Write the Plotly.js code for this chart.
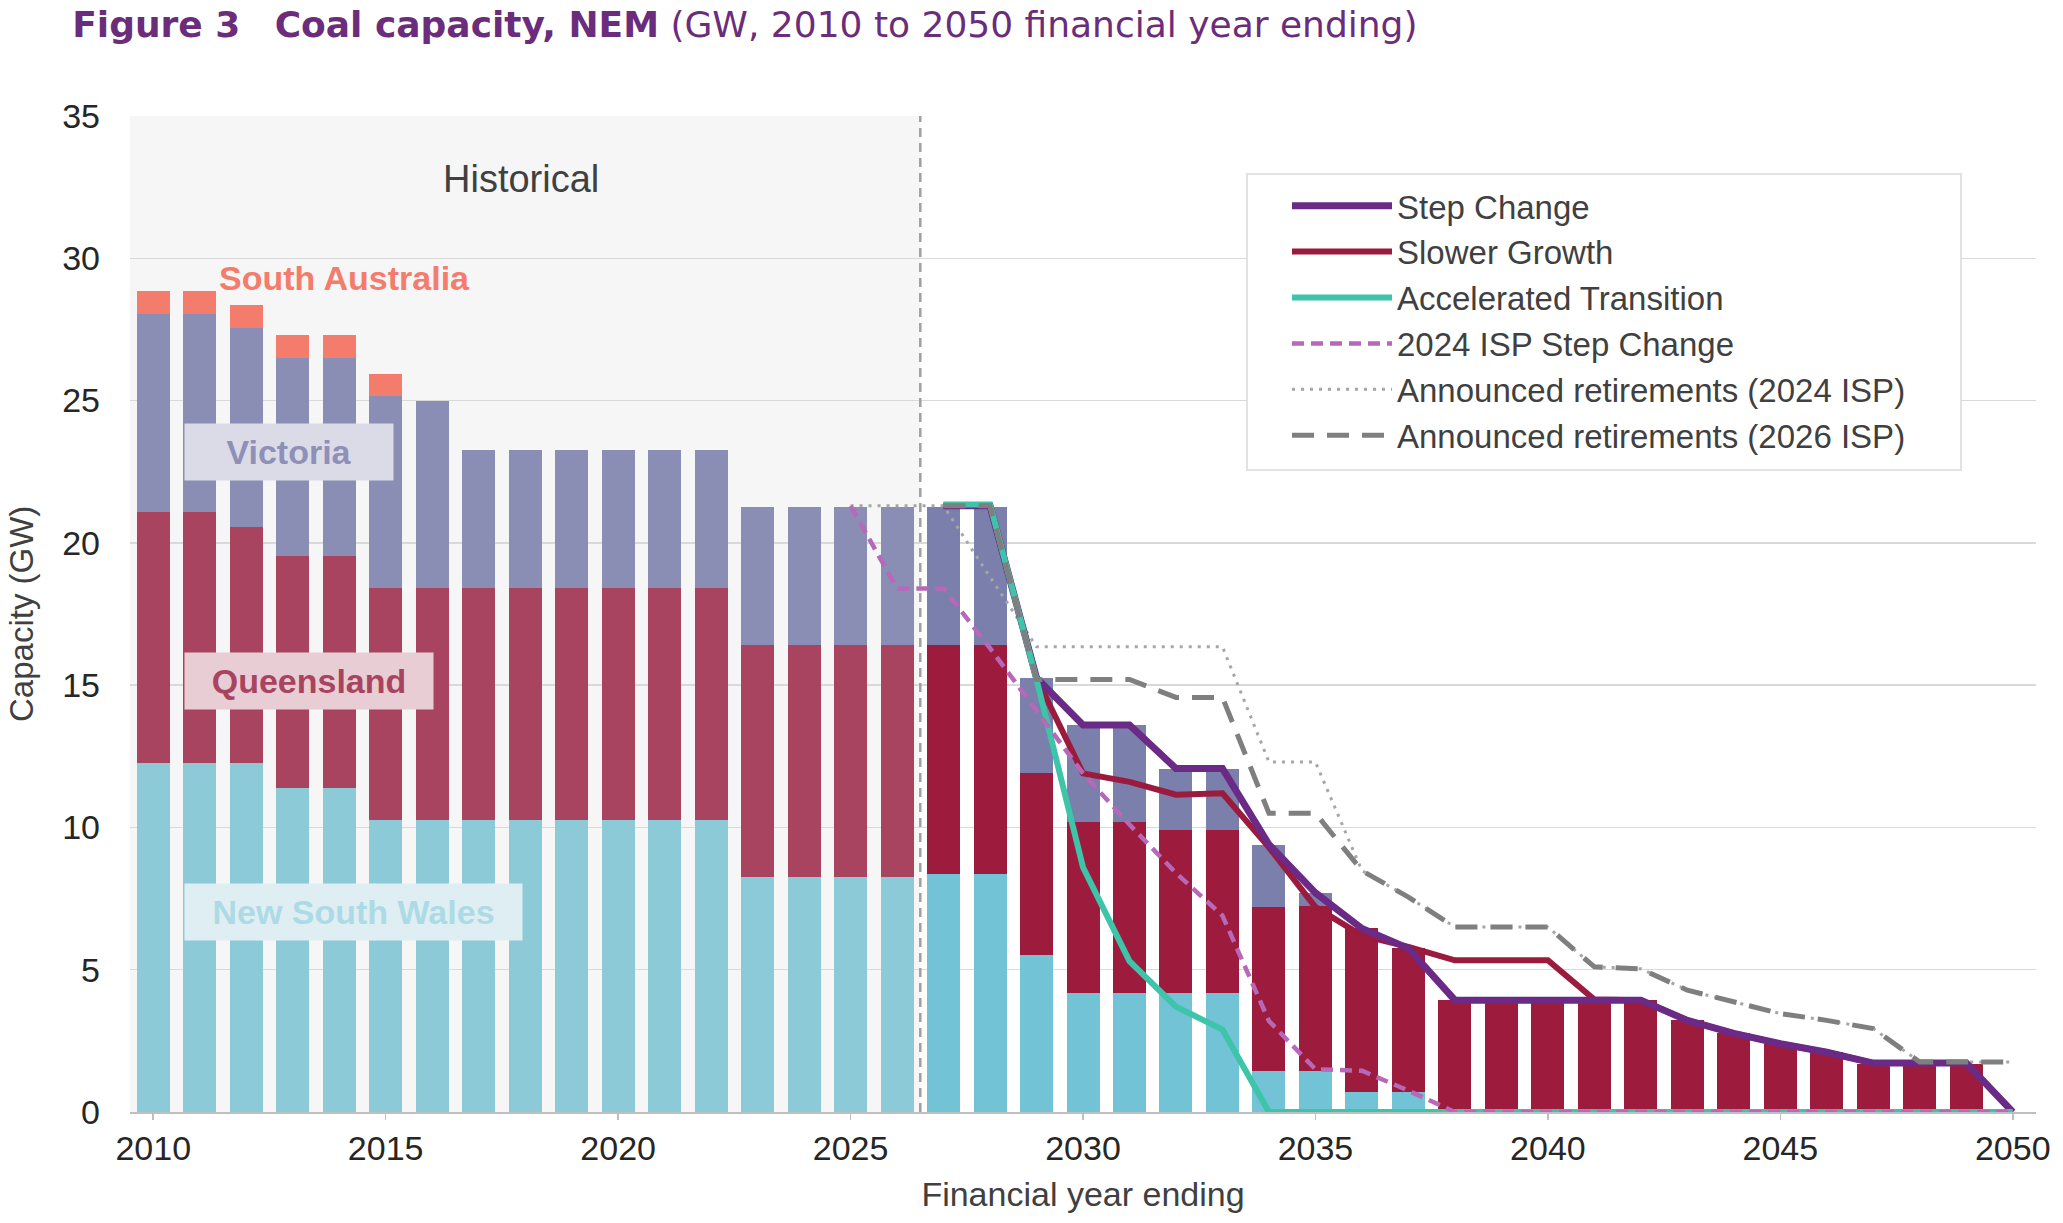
<!DOCTYPE html>
<html>
<head>
<meta charset="utf-8">
<script src="https://cdn.plot.ly/plotly-3.0.1.min.js"></script>
<style>
  html, body { margin: 0; padding: 0; background: #fff; }
  #chart { width: 2063px; height: 1223px; }
</style>
</head>
<body>
<div id="chart"></div>
<script>
// financial year ending
const years = [2010, 2011, 2012, 2013, 2014, 2015, 2016, 2017, 2018, 2019,
               2020, 2021, 2022, 2023, 2024, 2025, 2026, 2027, 2028, 2029,
               2030, 2031, 2032, 2033, 2034, 2035, 2036, 2037, 2038, 2039,
               2040, 2041, 2042, 2043, 2044, 2045, 2046, 2047, 2048, 2049, 2050];
const lastHistoricalYear = 2026;

// coal capacity by region, GW (historical, then Step Change)
const nsw = [12.25, 12.25, 12.25, 11.4, 11.4, 10.25, 10.25, 10.25, 10.25, 10.25,
             10.25, 10.25, 10.25, 8.25, 8.25, 8.25, 8.25, 8.35, 8.35, 5.5,
             4.17, 4.17, 4.17, 4.17, 1.45, 1.45, 0.71, 0.71, 0, 0,
             0, 0, 0, 0, 0, 0, 0, 0, 0, 0, 0];
const qld = [8.85, 8.85, 8.3, 8.15, 8.15, 8.15, 8.15, 8.15, 8.15, 8.15,
             8.15, 8.15, 8.15, 8.15, 8.15, 8.15, 8.15, 8.05, 8.05, 6.4,
             6.03, 6.03, 5.73, 5.73, 5.75, 5.8, 5.74, 5.04, 3.93, 3.93,
             3.93, 3.93, 3.93, 3.22, 2.76, 2.4, 2.1, 1.7, 1.7, 1.7, 0];
const vic = [6.95, 6.95, 7.0, 6.95, 6.95, 6.75, 6.6, 4.85, 4.85, 4.85,
             4.85, 4.85, 4.85, 4.85, 4.85, 4.85, 4.85, 4.85, 4.85, 3.35,
             3.4, 3.4, 2.17, 2.17, 2.2, 0.45, 0, 0, 0, 0,
             0, 0, 0, 0, 0, 0, 0, 0, 0, 0, 0];
const sa = [0.8, 0.8, 0.8, 0.8, 0.8, 0.8, 0, 0, 0, 0,
            0, 0, 0, 0, 0, 0, 0, 0, 0, 0,
            0, 0, 0, 0, 0, 0, 0, 0, 0, 0,
            0, 0, 0, 0, 0, 0, 0, 0, 0, 0, 0];

// scenario totals, GW
const projYears = [2027, 2028, 2029, 2030, 2031, 2032, 2033, 2034, 2035, 2036,
                   2037, 2038, 2039, 2040, 2041, 2042, 2043, 2044, 2045, 2046,
                   2047, 2048, 2049, 2050];
const stepChange = [21.3, 21.3, 15.25, 13.6, 13.6, 12.07, 12.07, 9.4, 7.7, 6.45,
                    5.75, 3.93, 3.93, 3.93, 3.93, 3.93, 3.22, 2.76, 2.4, 2.1,
                    1.72, 1.72, 1.72, 0];
const slowerGrowth = [21.3, 21.3, 15.25, 11.9, 11.6, 11.15, 11.2, 9.3, 7.2, 6.2,
                      5.8, 5.33, 5.33, 5.33, 3.95, 3.93, 3.22, 2.76, 2.4, 2.1,
                      1.72, 1.72, 1.72, 0];
const accelerated = [21.35, 21.35, 15.2, 8.6, 5.3, 3.7, 2.9, 0, 0, 0,
                     0, 0, 0, 0, 0, 0, 0, 0, 0, 0,
                     0, 0, 0, 0];
const announced2026 = [21.3, 21.3, 15.2, 15.2, 15.2, 14.57, 14.57, 10.5, 10.5, 8.48,
                       7.55, 6.5, 6.5, 6.5, 5.1, 5.03, 4.28, 3.87, 3.46, 3.22,
                       2.93, 1.76, 1.76, 1.76];

const isp2024Years = [2025, 2026, 2027, 2028, 2029, 2030, 2031, 2032, 2033, 2034,
                      2035, 2036, 2037, 2038, 2039, 2040, 2041, 2042, 2043, 2044,
                      2045, 2046, 2047, 2048, 2049, 2050];
const isp2024StepChange = [21.3, 18.4, 18.4, 16.3, 14.1, 11.9, 10.1, 8.4, 6.9, 3.2,
                           1.5, 1.45, 0.75, 0, 0, 0, 0, 0, 0, 0,
                           0, 0, 0, 0, 0, 0];
const announced2024 = [21.3, 21.3, 21.3, 18.8, 16.35, 16.35, 16.35, 16.35, 16.35, 12.3,
                       12.3, 8.48, 7.55, 6.5, 6.5, 6.5, 5.1, 5.03, 4.28, 3.87,
                       3.46, 3.22, 2.93, 1.76, 1.76, 1.76];

const xTicks = [2010, 2015, 2020, 2025, 2030, 2035, 2040, 2045, 2050];

function barColours(histCol, projCol) {
    return years.map(y => (y <= lastHistoricalYear ? histCol : projCol));
}

function barTrace(name, values, histCol, projCol) {
    return {
        type: 'bar', name: name, x: years, y: values,
        marker: { color: barColours(histCol, projCol), line: { width: 0 } },
        showlegend: false, hoverinfo: 'x+y+name'
    };
}

function lineTrace(name, x, y, colour, width, dash, rank) {
    return {
        type: 'scatter', mode: 'lines', name: name, x: x, y: y,
        line: { color: colour, width: width, dash: dash },
        legendrank: rank
    };
}

const traces = [
    barTrace('New South Wales', nsw, '#8dcad8', '#72c3d6'),
    barTrace('Queensland', qld, '#a8445f', '#9d1c3e'),
    barTrace('Victoria', vic, '#8a8db4', '#7a7fab'),
    barTrace('South Australia', sa, '#f47c6c', '#f47c6c'),
    lineTrace('Announced retirements (2024 ISP)', isp2024Years, announced2024, '#a6a6a6', 3, '3px,6px', 5),
    lineTrace('Slower Growth', projYears, slowerGrowth, '#9b1b3f', 6, 'solid', 2),
    lineTrace('Step Change', projYears, stepChange, '#6a2a85', 7, 'solid', 1),
    lineTrace('Accelerated Transition', projYears, accelerated, '#3dc4a9', 6, 'solid', 3),
    lineTrace('Announced retirements (2026 ISP)', projYears, announced2026, '#7f7f7f', 5, '22px,13px', 6),
    lineTrace('2024 ISP Step Change', isp2024Years, isp2024StepChange, '#b868b8', 4.5, '12px,7px', 4)
];

const nb = '\u00a0';
const layout = {
    width: 2063, height: 1223,
    margin: { l: 130, r: 27, t: 116, b: 111 },
    paper_bgcolor: '#ffffff', plot_bgcolor: '#ffffff',
    font: { family: 'Liberation Sans, Arial, sans-serif', size: 34, color: '#404040' },
    title: {
        text: '<b>Figure 3</b>' + nb + nb + nb + '<b>Coal capacity, NEM</b> (GW, 2010 to 2050 financial year ending)',
        x: 0.035, xref: 'container', xanchor: 'left',
        y: 0.98, yref: 'container', yanchor: 'middle',
        font: { family: 'DejaVu Sans, sans-serif', size: 36, color: '#6b2d7b' }
    },
    barmode: 'stack', bargap: 0.29,
    xaxis: {
        range: [2009.5, 2050.5], tickvals: xTicks, showgrid: false, zeroline: false,
        showline: true, linecolor: '#bfbfbf', linewidth: 1.5,
        ticks: 'outside', ticklen: 6, tickcolor: '#bfbfbf', tickwidth: 1.5,
        tickfont: { size: 34, color: '#262626' },
        title: { text: 'Financial year ending', standoff: 16, font: { size: 34, color: '#404040' } }
    },
    yaxis: {
        range: [0, 35], dtick: 5, gridcolor: '#d9d9d9', gridwidth: 1.5, zeroline: false,
        tickfont: { size: 34, color: '#262626' }, ticklabelstandoff: 29
    },
    legend: {
        x: (1287 - 130) / 1906, y: 0.938, xanchor: 'left', yanchor: 'top',
        traceorder: 'normal',
        bgcolor: 'rgba(0,0,0,0)', borderwidth: 0,
        font: { size: 33, color: '#404040' }, tracegroupgap: 0, itemwidth: 100
    },
    shapes: [
        { type: 'rect', xref: 'x', yref: 'y', x0: 2009.5, x1: lastHistoricalYear + 0.5, y0: 0, y1: 35,
          fillcolor: '#f6f6f6', line: { width: 0 }, layer: 'below' },
        { type: 'line', xref: 'x', yref: 'y', x0: lastHistoricalYear + 0.5, x1: lastHistoricalYear + 0.5, y0: 0, y1: 35,
          line: { color: '#a0a0a0', width: 2.5, dash: '9px,6px' }, layer: 'above' },
        // legend frame
        { type: 'rect', xref: 'paper', yref: 'paper',
          x0: (1247 - 130) / 1906, x1: (1961 - 130) / 1906, y0: (1112 - 470) / 996, y1: (1112 - 174) / 996,
          fillcolor: '#ffffff', line: { color: '#d9d9d9', width: 1.5 }, layer: 'above' }
    ],
    annotations: [
        { text: 'Historical', x: 2017.9, y: 32.8, xref: 'x', yref: 'y', showarrow: false,
          font: { size: 38, color: '#404040' } },
        { text: '<b>South Australia</b>', x: 2014.12, y: 29.3, xref: 'x', yref: 'y', showarrow: false,
          font: { size: 34, color: '#f47c6c' } },
        { text: '<b>Victoria</b>', x: 2012.91, y: 23.2, xref: 'x', yref: 'y', showarrow: false,
          width: 208, height: 56, bgcolor: '#dadbe7', borderpad: 0,
          font: { size: 34, color: '#8e90b8' } },
        { text: '<b>Queensland</b>', x: 2013.34, y: 15.16, xref: 'x', yref: 'y', showarrow: false,
          width: 248, height: 56, bgcolor: '#e8cdd4', borderpad: 0,
          font: { size: 34, color: '#a8445f' } },
        { text: '<b>New South Wales</b>', x: 2014.3, y: 7.03, xref: 'x', yref: 'y', showarrow: false,
          width: 337, height: 56, bgcolor: '#dfeef2', borderpad: 0,
          font: { size: 34, color: '#acdbe6' } },
        { text: 'Capacity (GW)', x: (21 - 130) / 1906, y: 0.5, xref: 'paper', yref: 'paper',
          xanchor: 'center', yanchor: 'middle', textangle: -90, showarrow: false,
          font: { size: 33, color: '#404040' } }
    ]
};

Plotly.newPlot('chart', traces, layout, { displayModeBar: false, staticPlot: true });
</script>
</body>
</html>
